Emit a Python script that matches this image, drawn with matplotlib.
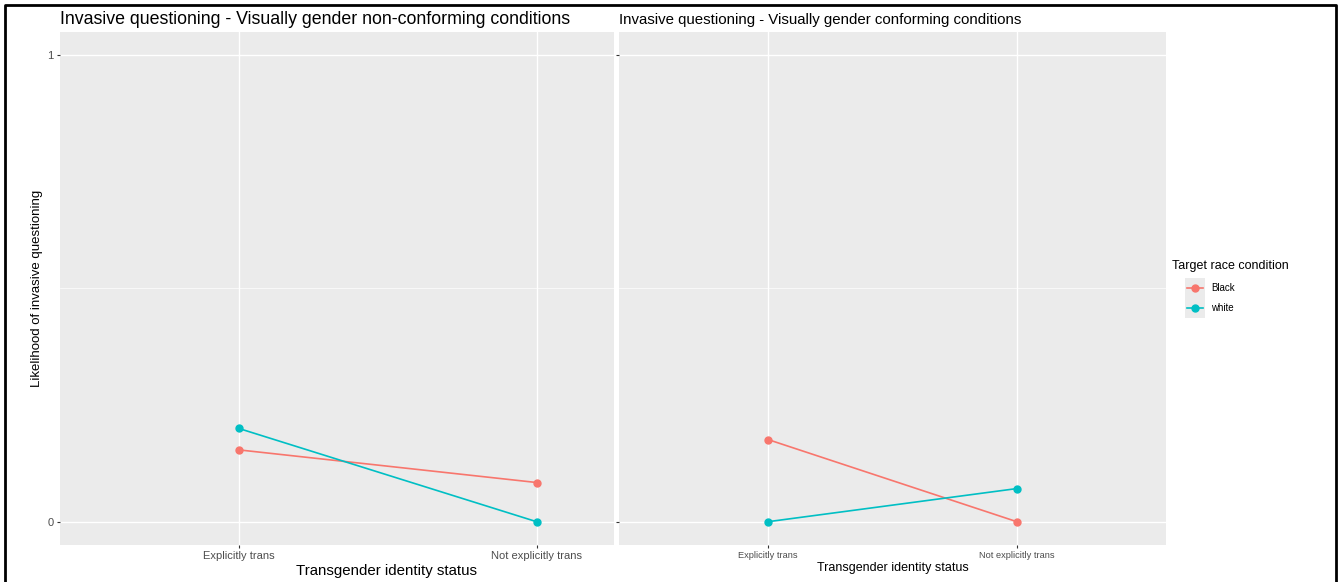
import matplotlib.pyplot as plt
from matplotlib.patches import Rectangle
from matplotlib.lines import Line2D

plt.rcParams['font.family'] = ['Liberation Sans', 'DejaVu Sans']

categories = ['Explicitly trans', 'Not explicitly trans']
groups = ['Black', 'white']
colors = {'Black': '#F8766D', 'white': '#00BFC4'}

# left panel: visually gender non-conforming
nonconf_black = [0.154, 0.084]
nonconf_white = [0.200, 0.0]
# right panel: visually gender conforming
conf_black = [0.176, 0.0]
conf_white = [0.0, 0.071]

W, H = 1340, 582
fig = plt.figure(figsize=(W / 100, H / 100), dpi=100)


def px_axes(x0, y0, x1, y1):
    return fig.add_axes([x0 / W, 1 - y1 / H, (x1 - x0) / W, (y1 - y0) / H])


def style(ax, xlim, tick_fs, show_ylabels):
    ax.set_facecolor('#EBEBEB')
    ax.set_xlim(*xlim)
    ax.set_ylim(-0.05, 1.05)
    ax.set_xticks([1, 2])
    ax.set_xticklabels(categories, fontsize=tick_fs, color='#4D4D4D')
    ax.set_yticks([0, 1])
    ax.set_yticks([0.5], minor=True)
    if show_ylabels:
        ax.set_yticklabels(['0', '1'], fontsize=8, color='#4D4D4D')
    else:
        ax.set_yticklabels([])
    ax.tick_params(which='major', length=2.5, width=0.8, color='#333333', pad=2)
    ax.tick_params(which='minor', length=0)
    ax.grid(True, which='major', color='white', lw=1.0)
    ax.grid(True, which='minor', axis='y', color='white', lw=0.5)
    ax.set_axisbelow(True)
    for s in ax.spines.values():
        s.set_visible(False)


x = [1, 2]

ax1 = px_axes(60, 32, 614, 545)
style(ax1, (0.4, 2.26), 8, True)
ax1.plot(x, nonconf_black, color=colors['Black'], lw=1.2, marker='o', ms=5, label='Black')
ax1.plot(x, nonconf_white, color=colors['white'], lw=1.2, marker='o', ms=5, label='white')
ax1.set_title('Invasive questioning - Visually gender non-conforming conditions',
              loc='left', fontsize=12.8, pad=6)
ax1.set_xlabel('Transgender identity status', fontsize=10.8, labelpad=1)
ax1.xaxis.set_label_coords((387 - 60) / 554, -0.037)
ax1.set_ylabel('Likelihood of invasive questioning', fontsize=9.5, labelpad=3)

ax2 = px_axes(619, 32, 1166, 545)
style(ax2, (0.4, 2.6), 6.7, False)
ax2.plot(x, conf_black, color=colors['Black'], lw=1.2, marker='o', ms=5)
ax2.plot(x, conf_white, color=colors['white'], lw=1.2, marker='o', ms=5)
ax2.set_title('Invasive questioning - Visually gender conforming conditions',
              loc='left', fontsize=10.8, pad=6)
ax2.set_xlabel('Transgender identity status', fontsize=9, labelpad=1)

# legend
fig.text(1172 / W, 1 - 266 / H, 'Target race condition', fontsize=9, va='center', ha='left')
fig.patches.append(Rectangle((1185 / W, 1 - 318 / H), 20 / W, 40 / H,
                             transform=fig.transFigure, facecolor='#EBEBEB',
                             edgecolor='none'))
for i, g in enumerate(groups):
    yy = 1 - (288 + 20 * i) / H
    fig.add_artist(Line2D([1187 / W, 1203 / W], [yy, yy], color=colors[g], lw=1.2,
                          transform=fig.transFigure))
    fig.add_artist(Line2D([1195 / W], [yy], color=colors[g], marker='o', ms=5,
                          transform=fig.transFigure))
    fig.text(1211 / W, yy, g, fontsize=7, va='center', ha='left')

# outer frame
fig.add_artist(Line2D([5 / W, 5 / W, 1336 / W, 1336 / W],
                      [0, 1 - 5 / H, 1 - 5 / H, 0], color='black', lw=2,
                      transform=fig.transFigure))

fig.savefig('out.png', dpi=100)
